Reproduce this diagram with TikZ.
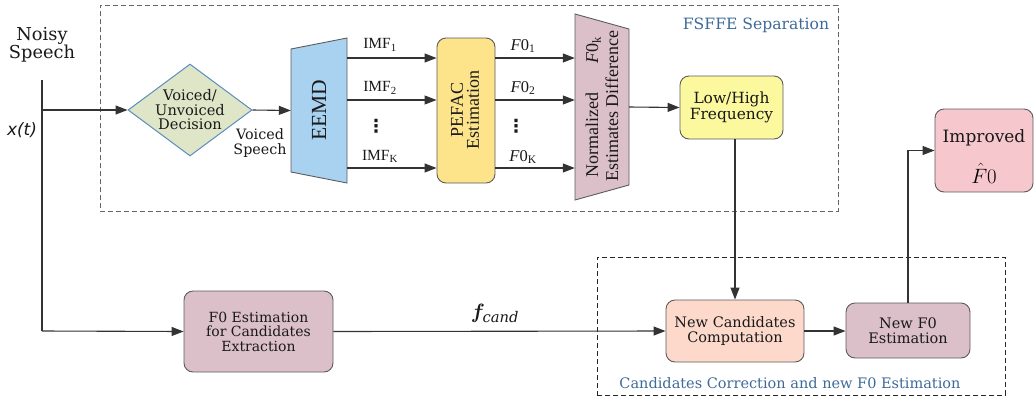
\documentclass[tikz,border=0pt]{standalone}
\usepackage{fontspec}
\usepackage{bm}
\setmainfont{DejaVu Serif}
\newfontfamily\tms{Liberation Serif}
\newfontfamily\dvs{DejaVu Sans}
\usetikzlibrary{shapes.geometric,arrows.meta,calc}
\definecolor{lineC}{HTML}{333333}
\definecolor{blueT}{HTML}{3D6A98}
\definecolor{vudF}{HTML}{DFE6C8}
\definecolor{vudB}{HTML}{5B8CC0}
\definecolor{eemdF}{HTML}{A9D1F0}
\definecolor{pefacF}{HTML}{FDE38A}
\definecolor{mauveF}{HTML}{DCC0C9}
\definecolor{lhF}{HTML}{FBF89E}
\definecolor{impF}{HTML}{F6C8CD}
\definecolor{ncF}{HTML}{FDD9CC}
\begin{document}
\begin{tikzpicture}[x=1pt,y=-1pt,
  conn/.style={draw=lineC,line width=1.1pt},
  arr/.style={conn,-{Triangle[length=12pt,width=9pt]}},
  rbox/.style={draw=lineC!80,line width=0.9pt,rounded corners=9pt,align=center,inner sep=0pt,text=black!90},
  lbl/.style={inner sep=0pt,align=center,text=black!90},
  grp/.style={draw,dashed,line width=1pt,dash pattern=on 5pt off 3pt}]
\useasboundingbox (0,0) rectangle (1034,400);
% group boxes
\node[grp,draw=black!60,minimum width=738,minimum height=206,inner sep=0pt] (fsffe) at (469,108) {};
\node[grp,draw=black!85,minimum width=408,minimum height=138,inner sep=0pt] (ccbox) at (801,326) {};
\node[lbl,text=blueT,font=\fontsize{15.6}{16}\selectfont] (fsffelbl) at (756,25) {FSFFE Separation};
\node[lbl,text=blueT,font=\fontsize{14.5}{15}\selectfont] (cclbl) at (790,383) {Candidates Correction and new F0 Estimation};
% input
\node[lbl,font=\fontsize{17.8}{18.5}\selectfont] (noisy) at (42,45) {Noisy\\Speech};
\node[lbl,font=\dvs\itshape\fontsize{17}{18}\selectfont] (xt) at (22,130) {x(t)};
\coordinate (top) at (42,80);
\coordinate (j1) at (42,110);
\coordinate (j2) at (42,331);
% diamond
\node[diamond,draw=vudB,line width=1pt,fill=vudF,minimum width=124,minimum height=92,inner sep=0pt,aspect=1.35,align=center,text=black!90,font=\fontsize{14.6}{14.5}\selectfont] (vud) at (190,110) {Voiced/\\Unvoiced\\Decision};
\node[lbl,font=\fontsize{14.3}{14.5}\selectfont] (vs) at (260,143) {Voiced\\Speech};
% EEMD
\node[minimum width=56,minimum height=145,inner sep=0pt] (eemd) at (319,110.5) {};
\draw[draw=lineC!80,line width=0.9pt,fill=eemdF] (291,49) -- (347,38) -- (347,183) -- (291,172) -- cycle;
\node[lbl,rotate=90,font=\tms\fontsize{21.5}{22}\selectfont] (eemdt) at (319,110) {EEMD};
% PEFAC
\node[rbox,fill=pefacF,minimum width=58,minimum height=145] (pefac) at (466,110.5) {};
\node[lbl,rotate=90,font=\tms\fontsize{18}{16}\selectfont] (pefact) at (465,110) {PEFAC\\Estimation};
% Normalized
\node[minimum width=54,minimum height=186,inner sep=0pt] (norm) at (602,107) {};
\draw[draw=lineC!80,line width=0.9pt,fill=mauveF] (575,14) -- (629,29) -- (629,185) -- (575,200) -- cycle;
\node[lbl,rotate=90,font=\tms\fontsize{18}{20}\selectfont] (normt) at (602,106) {\makebox[142pt][l]{Normalized\hfill\textit{F}0\textsubscript{k}\hspace{2pt}}\\Estimates Difference};
% Low/High
\node[rbox,fill=lhF,minimum width=103,minimum height=63,font=\fontsize{15.4}{15.5}\selectfont] (lh) at (731.5,107.5) {Low/High\\Frequency};
% Improved
\node[rbox,fill=impF,minimum width=98,minimum height=83] (imp) at (984,150.5) {};
\node[lbl,anchor=base,font=\fontsize{17}{17}\selectfont] (impt) at (984,142) {Improved};
\node[lbl,anchor=base,text=black,font=\fontsize{21}{21}\selectfont] (f0hat) at (984,183) {$\hat{F}0$};
% bottom
\node[rbox,fill=mauveF,minimum width=149,minimum height=81,font=\fontsize{14}{14.5}\selectfont] (f0est) at (258.5,331.5) {F0 Estimation\\for Candidates\\Extraction};
\node[rbox,fill=ncF,minimum width=138,minimum height=62,font=\fontsize{14.5}{14.5}\selectfont] (nc) at (735,331) {New Candidates\\Computation};
\node[rbox,fill=mauveF,minimum width=124,minimum height=55,font=\fontsize{14.5}{14.5}\selectfont] (nf0) at (908,330.5) {New F0\\Estimation};
\node[lbl,font=\fontsize{21}{21}\selectfont] (fcand) at (495,313) {$\bm{f}_{\mathit{cand}}$};
% rows
\coordinate (r1) at (0,58);
\coordinate (r2) at (0,100);
\coordinate (r3) at (0,168);
\node[lbl,font=\tms\fontsize{15.5}{16}\selectfont] (imf1) at (380,45) {IMF\textsubscript{1}};
\node[lbl,font=\tms\fontsize{15.5}{16}\selectfont] (imf2) at (380,88) {IMF\textsubscript{2}};
\node[lbl,font=\dvs\bfseries\fontsize{18}{18}\selectfont] (d1) at (376,126) {⋮};
\node[lbl,font=\tms\fontsize{15.5}{16}\selectfont] (imfk) at (380,156) {IMF\textsubscript{K}};
\node[lbl,font=\tms\fontsize{16.5}{16}\selectfont] (f01) at (523,46) {\textit{F}0\textsubscript{1}};
\node[lbl,font=\tms\fontsize{16.5}{16}\selectfont] (f02) at (523,88) {\textit{F}0\textsubscript{2}};
\node[lbl,font=\dvs\bfseries\fontsize{18}{18}\selectfont] (d2) at (516,126) {⋮};
\node[lbl,font=\tms\fontsize{16.5}{16}\selectfont] (f0k) at (523,157) {\textit{F}0\textsubscript{K}};
% connectors
\draw[conn] (top) -- (j2);
\draw[arr] (j1) -- (vud.west);
\draw[arr] (vud.east) -- (eemd.west);
\foreach \r in {r1,r2,r3}{
  \draw[arr] (eemd.east |- \r) -- (pefac.west |- \r);
  \draw[arr] (pefac.east |- \r) -- (norm.west |- \r);
}
\draw[arr] (norm.east) -- (lh.west);
\draw[arr] (nc.north |- lh.south) -- (nc.north);
\draw[arr] (nc.east) -- (nc.east -| nf0.west);
\draw[arr] (nf0.north) |- (imp.west);
\draw[arr] (j2) -- (f0est.west);
\draw[arr] (f0est.east) -- (nc.west);
\end{tikzpicture}
\end{document}
